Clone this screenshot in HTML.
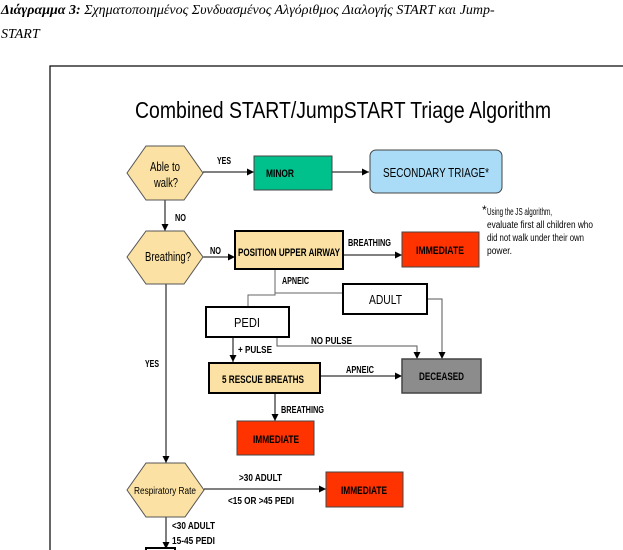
<!DOCTYPE html>
<html><head><meta charset="utf-8"><style>
html,body{margin:0;padding:0;background:#fff;width:623px;height:550px;overflow:hidden}
svg{display:block}
.s{font-family:"Liberation Sans",Arial,sans-serif}
</style></head><body>
<svg width="623" height="550" viewBox="0 0 623 550" xmlns="http://www.w3.org/2000/svg">
<defs><marker id="a" markerWidth="8" markerHeight="8" refX="7" refY="4" orient="auto" markerUnits="userSpaceOnUse"><path d="M0,0.5 L7,4 L0,7.5 z" fill="#000"/></marker></defs>
<g font-family="Liberation Serif,serif" font-style="italic" font-size="14">
<text x="1" y="14"><tspan font-weight="bold">Διάγραμμα 3:</tspan> Σχηματοποιημένος Συνδυασμένος Αλγόριθμος Διαλογής START και  Jump-</text>
<text x="1" y="38">START</text>
</g>
<rect x="50" y="66" width="600" height="500" fill="none" stroke="#000" stroke-width="1.2"/>
<g class="s" fill="#000">
<text x="135" y="118" font-size="23" textLength="416" lengthAdjust="spacingAndGlyphs">Combined START/JumpSTART Triage Algorithm</text>
</g>
<g stroke="#000" stroke-width="1" fill="none">
<!-- connectors -->
<line x1="203" y1="172" x2="254" y2="172" marker-end="url(#a)"/>
<line x1="332" y1="172" x2="369" y2="172" marker-end="url(#a)"/>
<line x1="165" y1="200" x2="165" y2="231" marker-end="url(#a)"/>
<line x1="203" y1="257" x2="235" y2="257" marker-end="url(#a)"/>
<line x1="343" y1="255" x2="402" y2="255" marker-end="url(#a)"/>
<polyline points="275,269 275,295 248,295 248,307" stroke="#666"/>
<line x1="275" y1="293" x2="343" y2="293" stroke="#666"/>
<polyline points="427,299 442,299 442,359" stroke="#555" marker-end="url(#a)"/>
<line x1="233" y1="337" x2="233" y2="362" marker-end="url(#a)"/>
<polyline points="277,337 277,346 417,346 417,359" stroke="#555" marker-end="url(#a)"/>
<line x1="320" y1="376" x2="402" y2="376" marker-end="url(#a)"/>
<line x1="275" y1="393" x2="275" y2="421" marker-end="url(#a)"/>
<line x1="166" y1="284" x2="166" y2="463" marker-end="url(#a)"/>
<line x1="204" y1="489" x2="326" y2="489" marker-end="url(#a)"/>
<line x1="166" y1="517" x2="166" y2="549" marker-end="url(#a)"/>
</g>
<!-- hexagons -->
<g fill="#fbe2a4" stroke="#555" stroke-width="1">
<polygon points="127,173 146,146 184,146 203,173 184,200 146,200"/>
<polygon points="127,257 146,231 184,231 203,257 184,284 146,284"/>
<polygon points="127,490 146,463 185,463 204,490 185,517 146,517"/>
</g>
<!-- boxes -->
<rect x="254" y="156" width="78" height="34" fill="#00c08c" stroke="#444"/>
<rect x="370" y="150" width="132" height="43" rx="6" fill="#aadcf8" stroke="#444"/>
<rect x="235" y="231" width="108" height="38" fill="#fbe2a4" stroke="#000" stroke-width="2"/>
<rect x="402" y="232" width="77" height="35" fill="#ff3300" stroke="#444"/>
<rect x="343" y="284" width="84" height="30" fill="#fff" stroke="#000" stroke-width="2"/>
<rect x="206" y="307" width="83" height="30" fill="#fff" stroke="#000" stroke-width="2"/>
<rect x="209" y="363" width="111" height="30" fill="#fbe2a4" stroke="#000" stroke-width="2"/>
<rect x="402" y="359" width="79" height="34" fill="#8c8c8c" stroke="#444" stroke-width="1.5"/>
<rect x="237" y="421" width="77" height="34" fill="#ff3300" stroke="#444"/>
<rect x="326" y="472" width="77" height="35" fill="#ff3300" stroke="#444"/>
<rect x="146" y="548" width="29" height="10" fill="#fff" stroke="#000" stroke-width="2"/>
<g class="s" fill="#000" font-size="11">
<text x="150" y="171" font-size="13" textLength="30" lengthAdjust="spacingAndGlyphs">Able to</text>
<text x="154" y="187" font-size="13" textLength="24" lengthAdjust="spacingAndGlyphs">walk?</text>
<text x="217" y="164" font-weight="bold" font-size="10" textLength="14" lengthAdjust="spacingAndGlyphs">YES</text>
<text x="266" y="177" font-weight="bold" textLength="28" lengthAdjust="spacingAndGlyphs">MINOR</text>
<text x="383" y="177" font-size="13" textLength="106" lengthAdjust="spacingAndGlyphs">SECONDARY TRIAGE*</text>
<text x="482" y="214" font-size="12">*</text>
<text x="487" y="215" font-size="10" textLength="65" lengthAdjust="spacingAndGlyphs">Using the JS algorithm,</text>
<text x="487" y="228" font-size="10" textLength="106" lengthAdjust="spacingAndGlyphs">evaluate first all children who</text>
<text x="487" y="241" font-size="10" textLength="97" lengthAdjust="spacingAndGlyphs">did not walk under their own</text>
<text x="487" y="254" font-size="10" textLength="25" lengthAdjust="spacingAndGlyphs">power.</text>
<text x="175" y="221" font-weight="bold" font-size="10" textLength="11" lengthAdjust="spacingAndGlyphs">NO</text>
<text x="145" y="261" font-size="13" textLength="46" lengthAdjust="spacingAndGlyphs">Breathing?</text>
<text x="210" y="254" font-weight="bold" font-size="10" textLength="11" lengthAdjust="spacingAndGlyphs">NO</text>
<text x="238" y="256" font-weight="bold" textLength="102" lengthAdjust="spacingAndGlyphs">POSITION UPPER AIRWAY</text>
<text x="348" y="246" font-weight="bold" font-size="10" textLength="43" lengthAdjust="spacingAndGlyphs">BREATHING</text>
<text x="416" y="254" font-weight="bold" textLength="48" lengthAdjust="spacingAndGlyphs">IMMEDIATE</text>
<text x="282" y="284" font-weight="bold" font-size="10" textLength="27" lengthAdjust="spacingAndGlyphs">APNEIC</text>
<text x="369" y="304" font-size="13" textLength="33" lengthAdjust="spacingAndGlyphs">ADULT</text>
<text x="234" y="327" font-size="13" textLength="26" lengthAdjust="spacingAndGlyphs">PEDI</text>
<text x="311" y="344" font-weight="bold" font-size="10" textLength="41" lengthAdjust="spacingAndGlyphs">NO PULSE</text>
<text x="238" y="353" font-weight="bold" font-size="10" textLength="34" lengthAdjust="spacingAndGlyphs">+ PULSE</text>
<text x="145" y="367" font-weight="bold" font-size="10" textLength="14" lengthAdjust="spacingAndGlyphs">YES</text>
<text x="222" y="383" font-weight="bold" textLength="82" lengthAdjust="spacingAndGlyphs">5 RESCUE BREATHS</text>
<text x="346" y="373" font-weight="bold" font-size="10" textLength="28" lengthAdjust="spacingAndGlyphs">APNEIC</text>
<text x="419" y="380" font-weight="bold" textLength="45" lengthAdjust="spacingAndGlyphs">DECEASED</text>
<text x="281" y="413" font-weight="bold" font-size="10" textLength="43" lengthAdjust="spacingAndGlyphs">BREATHING</text>
<text x="253" y="443" font-weight="bold" textLength="46" lengthAdjust="spacingAndGlyphs">IMMEDIATE</text>
<text x="134" y="494" font-size="10" textLength="62" lengthAdjust="spacingAndGlyphs">Respiratory Rate</text>
<text x="239" y="481" font-weight="bold" font-size="10" textLength="43" lengthAdjust="spacingAndGlyphs">&gt;30 ADULT</text>
<text x="228" y="504" font-weight="bold" font-size="10" textLength="66" lengthAdjust="spacingAndGlyphs">&lt;15 OR &gt;45 PEDI</text>
<text x="341" y="494" font-weight="bold" textLength="46" lengthAdjust="spacingAndGlyphs">IMMEDIATE</text>
<text x="172" y="529" font-weight="bold" font-size="10" textLength="43" lengthAdjust="spacingAndGlyphs">&lt;30 ADULT</text>
<text x="172" y="544" font-weight="bold" font-size="10" textLength="43" lengthAdjust="spacingAndGlyphs">15-45 PEDI</text>
</g>
</svg>
</body></html>
